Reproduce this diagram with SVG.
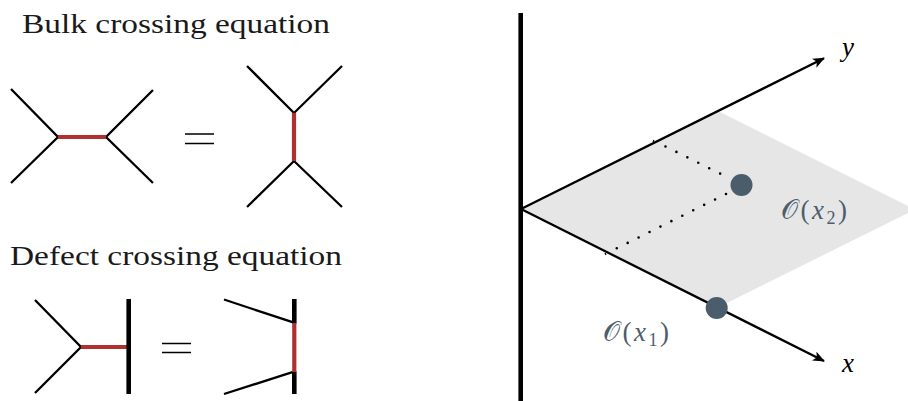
<svg xmlns="http://www.w3.org/2000/svg" width="908" height="401" viewBox="0 0 908 401">
<defs>
<style>
.t{font-family:"Liberation Serif","DejaVu Serif",serif;font-size:28px;fill:#1a1a1a}
.ln{stroke:#000;stroke-width:2.3;fill:none;stroke-linecap:butt}
.red{stroke:#b03030;stroke-width:4.2;fill:none}
.def{stroke:#000;stroke-width:4.6;fill:none}
.eq{stroke:#000;stroke-width:1.6}
.lab{font-family:"Liberation Serif","DejaVu Serif",serif;font-size:27px;fill:#4d5d6c;letter-spacing:2.5px}
.ax{font-family:"Liberation Serif","DejaVu Serif",serif;font-size:27px;font-style:italic;fill:#000}
.dots{stroke:#000;stroke-width:2.6;stroke-linecap:round;stroke-dasharray:0 12.2;fill:none}
</style>
<marker id="arr" viewBox="0 0 12 10" refX="11" refY="5" markerWidth="12" markerHeight="10" markerUnits="userSpaceOnUse" orient="auto">
<path d="M0,0 L12,5 L0,10 L3,5 Z" fill="#000"/>
</marker>
</defs>
<rect width="908" height="401" fill="#fff"/>

<g id="bulk-title"><text class="t" x="22" y="33" textLength="308" lengthAdjust="spacingAndGlyphs">Bulk crossing equation</text></g>

<g id="bulk-left">
<path class="ln" d="M11,89 L58,137 L11,183"/>
<path class="ln" d="M153,90 L106,137 L153,183"/>
<path class="red" d="M58,137 L106,137"/>
</g>
<g id="bulk-eq"><path class="eq" d="M185,134 H214 M185,143.5 H214"/></g>
<g id="bulk-right">
<path class="ln" d="M247,66 L294,113 L342,66"/>
<path class="ln" d="M247,207 L294,161 L342,207"/>
<path class="red" d="M294,113 L294,161"/>
</g>

<g id="defect-title"><text class="t" x="10" y="265" textLength="332" lengthAdjust="spacingAndGlyphs">Defect crossing equation</text></g>

<g id="defect-left">
<path class="ln" d="M35,300 L81,347 L35,393"/>
<path class="red" d="M81,347 L128,347"/>
<path class="def" d="M128.7,299 L128.7,394"/>
</g>
<g id="defect-eq"><path class="eq" d="M162,343.5 H191 M162,352.5 H191"/></g>
<g id="defect-right">
<path class="ln" d="M224,299.5 L294,322.7"/>
<path class="ln" d="M224,394 L294,371.7"/>
<path class="def" d="M294.3,299 L294.3,323.5"/>
<path class="def" d="M294.3,371.5 L294.3,394"/>
<path class="red" d="M294.3,323 L294.3,372"/>
</g>

<g id="region">
<polygon points="521,209 718,111 915,209.5 717.7,307.6" fill="#e6e6e6"/>
</g>
<g id="connectors">
<path class="def" d="M520.7,13 L520.7,401"/>
<path class="ln" d="M521,209 L824,58.3" marker-end="url(#arr)"/>
<path class="ln" d="M521,209 L824,361" marker-end="url(#arr)"/>
<path class="dots" d="M665.5,146.5 L727,177"/>
<path class="dots" d="M726,194 L616,248.7"/>
<path d="M653,142 l1,-2 M605,253 l1,2" stroke="#000" stroke-width="1.2"/>
</g>
<g id="dot-x2"><circle cx="741.5" cy="185" r="11" fill="#4b5c6b"/></g>
<g id="dot-x1"><circle cx="716.7" cy="308" r="11" fill="#4b5c6b"/></g>
<g id="labels">
<text class="lab" x="781" y="219">𝒪(<tspan font-style="italic">x</tspan><tspan font-size="18" dy="5">2</tspan><tspan dy="-5">)</tspan></text>
<text class="lab" x="603" y="341">𝒪(<tspan font-style="italic">x</tspan><tspan font-size="18" dy="5">1</tspan><tspan dy="-5">)</tspan></text>
<text class="ax" x="842" y="56">y</text>
<text class="ax" x="842" y="372">x</text>
</g>
</svg>
